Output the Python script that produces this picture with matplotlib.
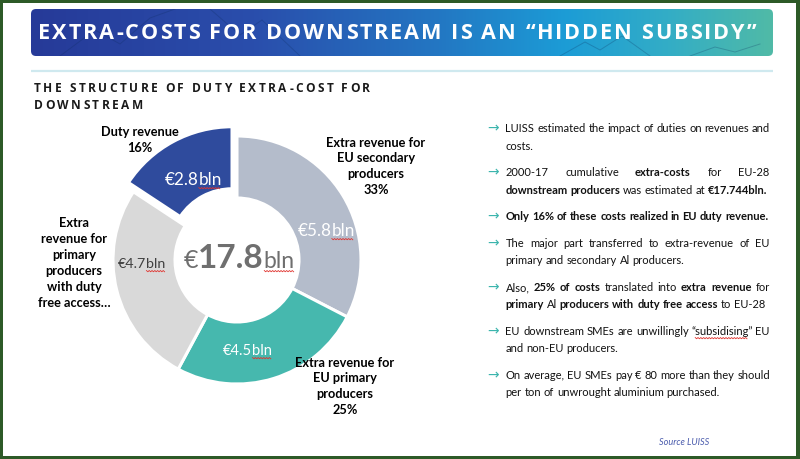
import numpy as np
import matplotlib
matplotlib.use("Agg")
import matplotlib.pyplot as plt
from matplotlib.patches import FancyBboxPatch, Rectangle
from matplotlib.colors import LinearSegmentedColormap
from matplotlib.font_manager import FontProperties, findfont
from matplotlib.ft2font import FT2Font
try:
    from matplotlib.ft2font import LoadFlags
    NOHINT = LoadFlags.NO_HINTING
except Exception:
    NOHINT = 2

# ---------------- data ----------------
title = "EXTRA-COSTS FOR DOWNSTREAM IS AN \u201cHIDDEN SUBSIDY\u201d"
subtitle_lines = ["THE STRUCTURE OF DUTY EXTRA-COST FOR", "DOWNSTREAM"]

slice_names = ["EU secondary producers", "EU primary producers",
               "Primary producers with duty free access", "Duty revenue"]
slice_values = [5.8, 4.5, 4.7, 2.8]          # EUR bln
total_value = 17.8
slice_labels = [
    ["Extra revenue for", "EU secondary", "producers", "33%"],
    ["Extra revenue for", "EU primary", "producers", "25%"],
    ["Extra", "revenue for", "primary", "producers", "with duty", "free access\u2026"],
    ["Duty revenue", "16%"],
]

bullets = [
    ["LUISS estimated the impact of duties on revenues and", "costs."],
    ["2000-17 cumulative **extra-costs** for EU-28",
     "**downstream producers** was estimated at **\u20ac17.744bln.**"],
    ["**Only 16% of these costs realized in EU duty revenue.**"],
    ["The major part transferred to extra-revenue of EU",
     "primary and secondary Al producers."],
    ["Also, **25% of costs** translated into **extra revenue** for",
     "**primary** Al **producers with duty free access** to EU-28"],
    ["EU downstream SMEs are unwillingly \u201csubsidising\u201d EU",
     "and non-EU producers."],
    ["On average, EU SMEs pay \u20ac 80 more than they should",
     "per ton of unwrought aluminium purchased."],
]
source_text = "Source LUISS"

# ---------------- style ----------------
W, H = 800, 459
slice_colors = ["#b4bccb", "#46b8ae", "#d9d9d9", "#2f4b9d"]
value_colors = ["white", "white", "#404040", "white"]
value_sizes = [12.3, 10.6, 10.3, 12.3]
value_pos = [(326, 236), (247.5, 355), (141.5, 268), (193, 185)]   # x-centre, baseline (px)
label_pos = [(376, 146.7), (345, 366.7), (74, 227), (139.5, 136.5)]
label_step = [15.7, 15.7, 16.0, 16.0]

_fonts = {}
def tw(s, fp):
    path = findfont(fp)
    if path not in _fonts:
        _fonts[path] = FT2Font(path)
    f = _fonts[path]
    f.set_size(fp.get_size_in_points(), 100)
    w = 0.0
    for ch in s:
        g = f.load_char(ord(ch), flags=NOHINT)
        w += g.linearHoriAdvance / 65536.0
    return w

def FP(family="Lato", weight="normal", size=10, style="normal"):
    return FontProperties(family=family, weight=weight, size=size, style=style)

fig = plt.figure(figsize=(W / 100, H / 100), dpi=100)
fig.patch.set_facecolor("#2d5a27")

bg = fig.add_axes([0, 0, 1, 1])
bg.set_xlim(0, W); bg.set_ylim(H, 0); bg.axis("off")
bg.add_patch(Rectangle((3, 3), 793, 453, facecolor="white", edgecolor="none", zorder=0))

# title bar with gradient
stops = [(0.0, "#263a98"), (0.3, "#2a4eac"), (0.55, "#2377c3"),
         (0.72, "#1c9cd6"), (0.86, "#33adc6"), (1.0, "#50baa7")]
cmap = LinearSegmentedColormap.from_list("t", stops)
grad = np.linspace(0, 1, 512).reshape(1, -1)
im = bg.imshow(grad, cmap=cmap, extent=(31, 773, 56, 9), aspect="auto",
               interpolation="bicubic", zorder=2)
clip = FancyBboxPatch((31, 9), 742, 47, boxstyle="round,pad=0,rounding_size=5",
                      transform=bg.transData, facecolor="none", edgecolor="none")
bg.add_patch(clip)
im.set_clip_path(clip)
# faint network texture in the banner
net_x = [[60, 95, 120, 150, 175], [210, 240, 262, 300], [560, 585, 600, 622, 650],
         [690, 715, 735, 760]]
net_y = [[56, 30, 44, 18, 9], [9, 35, 20, 56], [56, 42, 50, 36, 56], [56, 47, 52, 44]]
for xs_, ys_ in zip(net_x, net_y):
    bg.plot(xs_, ys_, color="#0b2a5a", lw=0.7, alpha=0.25, zorder=3, clip_path=clip)
bg.set_xlim(0, W); bg.set_ylim(H, 0)
bg.plot([31, 773], [71, 71], color="#cfe9ef", lw=1.6, solid_capstyle="butt", zorder=3)

# ---------------- donut ----------------
R = 124.0
cx, cy = 237.0, 260.0
pax = fig.add_axes([(cx - 1.25 * R) / W, 1 - (cy + 1.25 * R) / H, 2.5 * R / W, 2.5 * R / H])
wedges, _ = pax.pie(slice_values, colors=slice_colors, startangle=90, counterclock=False,
                    explode=[0, 0, 0, 10.5 / R], radius=1,
                    wedgeprops=dict(width=0.5, edgecolor="white", linewidth=2.2))
pax.set_xlim(-1.25, 1.25); pax.set_ylim(-1.25, 1.25); pax.set_aspect("equal")
pax.axis("off")

# ---------------- text overlay ----------------
tx = fig.add_axes([0, 0, 1, 1])
tx.set_xlim(0, W); tx.set_ylim(H, 0); tx.axis("off")
tx.patch.set_alpha(0)

def squiggle(x0, x1, y):
    xs = np.arange(x0, x1 + 0.01, 1.4)
    ys = y + np.where(np.arange(len(xs)) % 2 == 0, 0.0, 1.3)
    tx.plot(xs, ys, color="#e0342f", lw=0.6, solid_joinstyle="miter")

def spaced(s, x0, base, fp, spacing, color):
    x = x0
    for ch in s:
        if ch != " ":
            tx.text(x, base, ch, fontproperties=fp, color=color, ha="left", va="baseline")
        x += tw(ch, fp) + spacing
    return x

# title
fp_title = FP("Open Sans", "bold", 15.6)
t_nat = tw(title, fp_title)
t_sp = (718 - t_nat) / (len(title) - 1)
spaced(title, 38, 39, fp_title, t_sp, "white")

# subtitle
fp_sub = FP("Open Sans", "bold", 8.6)
s_nat = tw(subtitle_lines[0], fp_sub)
s_sp = (336 - s_nat) / (len(subtitle_lines[0]) - 1)
spaced(subtitle_lines[0], 34, 92.5, fp_sub, s_sp, "#1a1a1a")
spaced(subtitle_lines[1], 34, 109, fp_sub, s_sp, "#1a1a1a")

# value labels inside slices
def composed(parts, xc, base, squig_part=None):
    total = sum(tw(s, fp) for s, fp, c in parts)
    x = xc - total / 2
    for i, (s, fp, c) in enumerate(parts):
        tx.text(x, base, s, fontproperties=fp, color=c, ha="left", va="baseline")
        w = tw(s, fp)
        if i == squig_part:
            squiggle(x + 0.5, x + w - 0.5, base + 2.5)
        x += w

for v, col, sz, (xc, base) in zip(slice_values, value_colors, value_sizes, value_pos):
    fp = FP("Lato", "normal", sz)
    composed([("\u20ac%.1f" % v, fp, col), ("bln", fp, col)], xc, base, squig_part=1)

# centre total
cc = "#6f6f6f"
composed([("\u20ac", FP("Lato", "normal", 18), cc),
          ("%.1f" % total_value, FP("Lato", "bold", 24), cc),
          ("bln", FP("Lato", "normal", 16.5), cc)], 239, 268, squig_part=2)

# category labels
fp_lab = FP("Lato", "bold", 9.2)
for lines, (xc, b0), step in zip(slice_labels, label_pos, label_step):
    for i, s in enumerate(lines):
        tx.text(xc, b0 + i * step, s, fontproperties=fp_lab, color="black",
                ha="center", va="baseline")

# right-hand bullets
X0, X1 = 505.5, 770.0
_probe = FP("Lato", "normal", 9)
body_size = 9 * (X1 - X0) / tw(bullets[0][0], _probe)
fp_reg = FP("Lato", "normal", body_size)
fp_bold = FP("Lato", "bold", body_size)
fp_arrow = FontProperties(family="DejaVu Sans", size=10)

def rich_line(line, base, justify):
    segs = line.split("**")
    tokens = []
    new_tok = True
    for k, seg in enumerate(segs):
        bold = (k % 2 == 1)
        if seg == "":
            continue
        parts = seg.split(" ")
        for j, p in enumerate(parts):
            if j > 0:
                new_tok = True
            if p == "":
                continue
            if new_tok or not tokens:
                tokens.append([(p, bold)])
            else:
                tokens[-1].append((p, bold))
            new_tok = False
        if seg.endswith(" "):
            new_tok = True
    widths = [sum(tw(p, fp_bold if b else fp_reg) for p, b in t) for t in tokens]
    if justify and len(tokens) > 1:
        gap = (X1 - X0 - sum(widths)) / (len(tokens) - 1)
    else:
        gap = tw(" ", fp_reg)
    x = X0
    for t, w in zip(tokens, widths):
        xx = x
        for p, b in t:
            fp = fp_bold if b else fp_reg
            tx.text(xx, base, p, fontproperties=fp, color="#111111", ha="left", va="baseline")
            if "subsidising" in p:
                i0 = p.index("subsidising")
                xs0 = xx + tw(p[:i0], fp)
                squiggle(xs0, xs0 + tw("subsidising", fp), base + 2.5)
            xx += tw(p, fp)
        x += w + gap

base = 132.5
for lines in bullets:
    tx.text(487.5, base - 3.8, "\u2192", fontproperties=fp_arrow, color="#3cb5ad",
            ha="left", va="center")
    for i, line in enumerate(lines):
        rich_line(line, base, justify=(i < len(lines) - 1))
        base += 17.5
    base += 26.5 - 17.5

tx.text(684, 445, source_text, fontproperties=FP("Lato", "normal", 6.6, "italic"),
        color="#4b5cad", ha="center", va="baseline")

fig.savefig("out.png", dpi=100, facecolor=fig.get_facecolor())
